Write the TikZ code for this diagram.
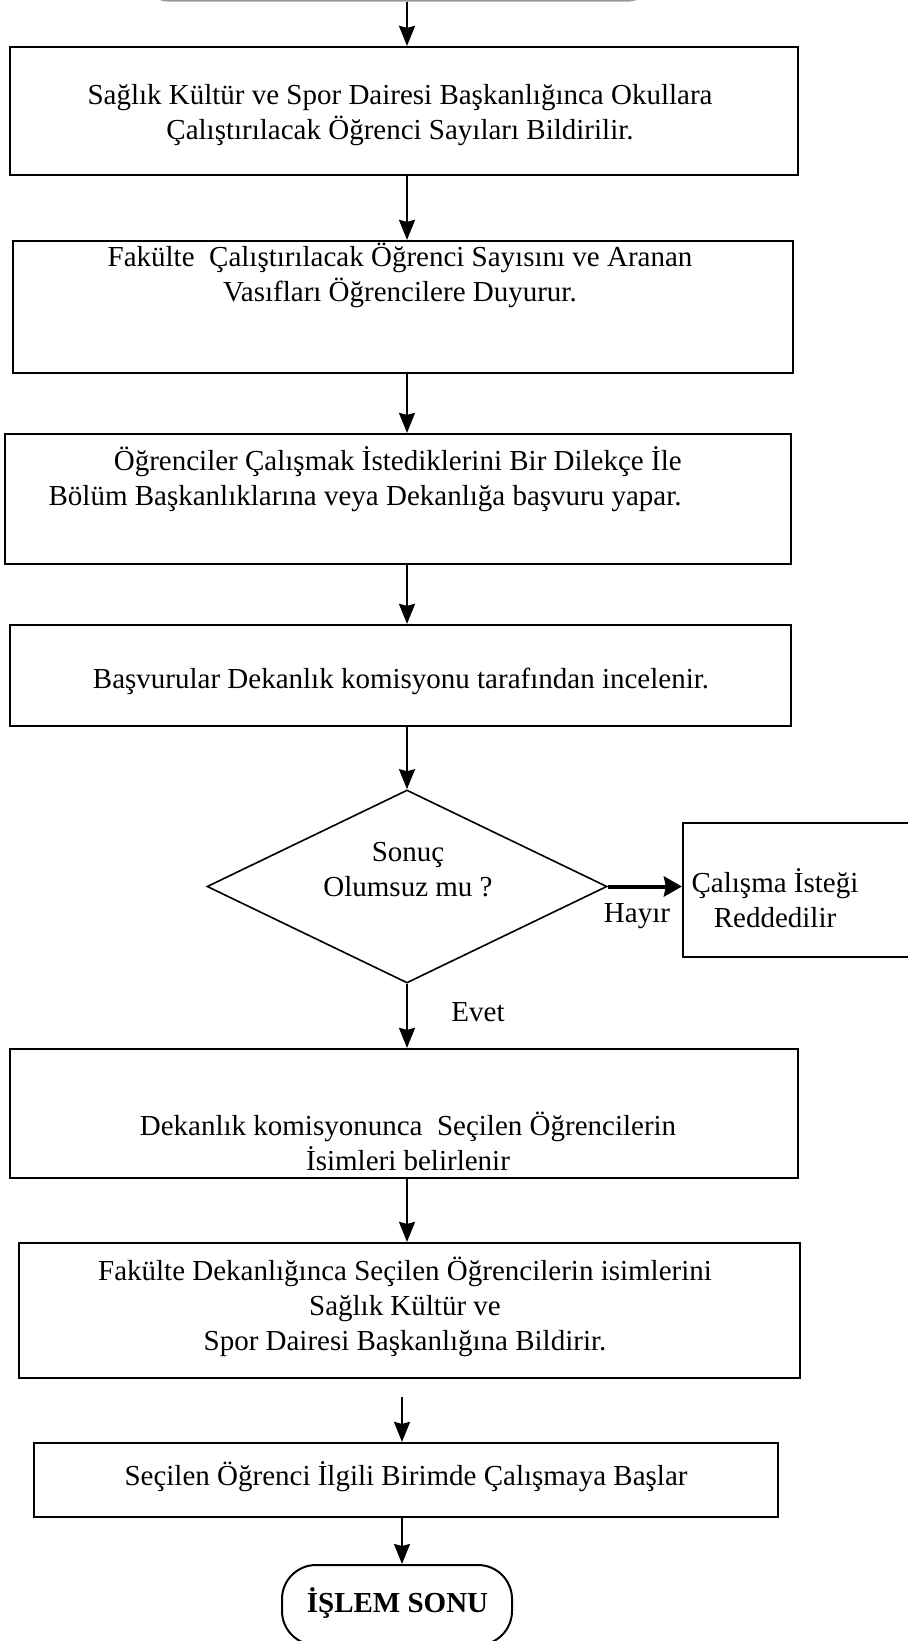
\documentclass[tikz,border=0pt]{standalone}
\usepackage{fontspec}
\setmainfont{Liberation Serif}
\usetikzlibrary{shapes.geometric,arrows.meta}

\begin{document}
\begin{tikzpicture}[x=0.5pt, y=-0.5pt,
    kutu/.style = {draw, rectangle, line width=1.1pt, inner sep=0pt},
    uc/.style = {draw, rectangle, rounded corners=17pt, line width=1pt, inner sep=0pt},
    karar/.style = {draw, diamond, line width=0.8pt, inner sep=0pt},
    yazi/.style = {font=\fontsize{14.5}{17.5}\selectfont, align=center, inner sep=0pt},
    ok/.style = {-{Stealth[length=10pt, width=8pt, inset=1pt]}, line width=1pt},
    kalinok/.style = {-{Stealth[length=9pt, width=10pt, inset=1pt]}, line width=2pt}]
    \useasboundingbox (0,0) rectangle (908,1641);

    % Kutular
    \node[uc, minimum width=262pt, minimum height=39pt, draw=black!40] (bas) at (398,-38.3) {};

    \node[kutu, minimum width=394pt, minimum height=64pt] (b1) at (404,111) {};

    \node[kutu, minimum width=390pt, minimum height=66pt] (b2) at (403,307) {};

    \node[kutu, minimum width=393pt, minimum height=65pt] (b3) at (398,499) {};

    \node[kutu, minimum width=390.5pt, minimum height=50.5pt] (b4) at (400.5,675.5) {};

    \node[karar, minimum width=200pt, minimum height=96.5pt] (sonuc) at (407,886.5) {};

    \node[kutu, minimum width=124pt, minimum height=67pt] (red) at (807,890) {};

    \node[kutu, minimum width=394pt, minimum height=64.5pt] (b6) at (404,1113.5) {};

    \node[kutu, minimum width=390.5pt, minimum height=67.5pt] (b7) at (409.5,1310.5) {};

    \node[kutu, minimum width=372pt, minimum height=37pt] (b8) at (406,1480) {};

    \node[uc, minimum width=115pt, minimum height=40pt] (son) at (397,1605) {};

    \coordinate (eksen) at (407,0);
    \coordinate (eksen2) at (402,0);
    \coordinate (kopuk) at (402,1397);

    % Yazilar
    \node[yazi] (t1) at (400,115.5) {Sağlık Kültür ve Spor Dairesi Başkanlığınca Okullara\\Çalıştırılacak Öğrenci Sayıları Bildirilir.};
    \node[yazi] (t2) at (400,275) {Fakülte~ Çalıştırılacak Öğrenci Sayısını ve Aranan\\Vasıfları Öğrencilere Duyurur.};
    \node[yazi, align=right, anchor=east] (t3) at (682,479.5) {Öğrenciler Çalışmak İstediklerini Bir Dilekçe İle\\Bölüm Başkanlıklarına veya Dekanlığa başvuru yapar.};
    \node[yazi] (t4) at (401,681) {Başvurular Dekanlık komisyonu tarafından incelenir.};
    \node[yazi] (t5) at (408,870) {Sonuç\\Olumsuz mu ?};
    \node[yazi] (t6) at (775,898) {Çalışma İsteği\\Reddedilir};
    \node[yazi] (hayir) at (637,916) {Hayır};
    \node[yazi] (evet) at (478,1012) {Evet};
    \node[yazi] (t7) at (408,1141) {Dekanlık komisyonunca~ Seçilen Öğrencilerin\\İsimleri belirlenir};
    \node[yazi] (t8) at (405,1307) {Fakülte Dekanlığınca Seçilen Öğrencilerin isimlerini\\Sağlık Kültür ve\\Spor Dairesi Başkanlığına Bildirir.};
    \node[yazi] (t9) at (406,1477) {Seçilen Öğrenci İlgili Birimde Çalışmaya Başlar};
    \node[yazi] (t10) at (397.5,1603) {\textbf{İŞLEM SONU}};

    % Oklar
    \draw[ok] (bas.south -| eksen) -- (b1.north -| eksen);
    \draw[ok] (b1.south -| eksen) -- (b2.north -| eksen);
    \draw[ok] (b2.south -| eksen) -- (b3.north -| eksen);
    \draw[ok] (b3.south -| eksen) -- (b4.north -| eksen);
    \draw[ok] (b4.south -| eksen) -- (sonuc.north);
    \draw[kalinok] (sonuc.east) -- (red.west |- sonuc.east);
    \draw[ok] (sonuc.south) -- (b6.north -| sonuc.south);
    \draw[ok] (b6.south -| eksen) -- (b7.north -| eksen);
    \draw[ok] (kopuk) -- (b8.north -| kopuk);
    \draw[ok] (b8.south -| eksen2) -- (son.north -| eksen2);
\end{tikzpicture}
\end{document}
